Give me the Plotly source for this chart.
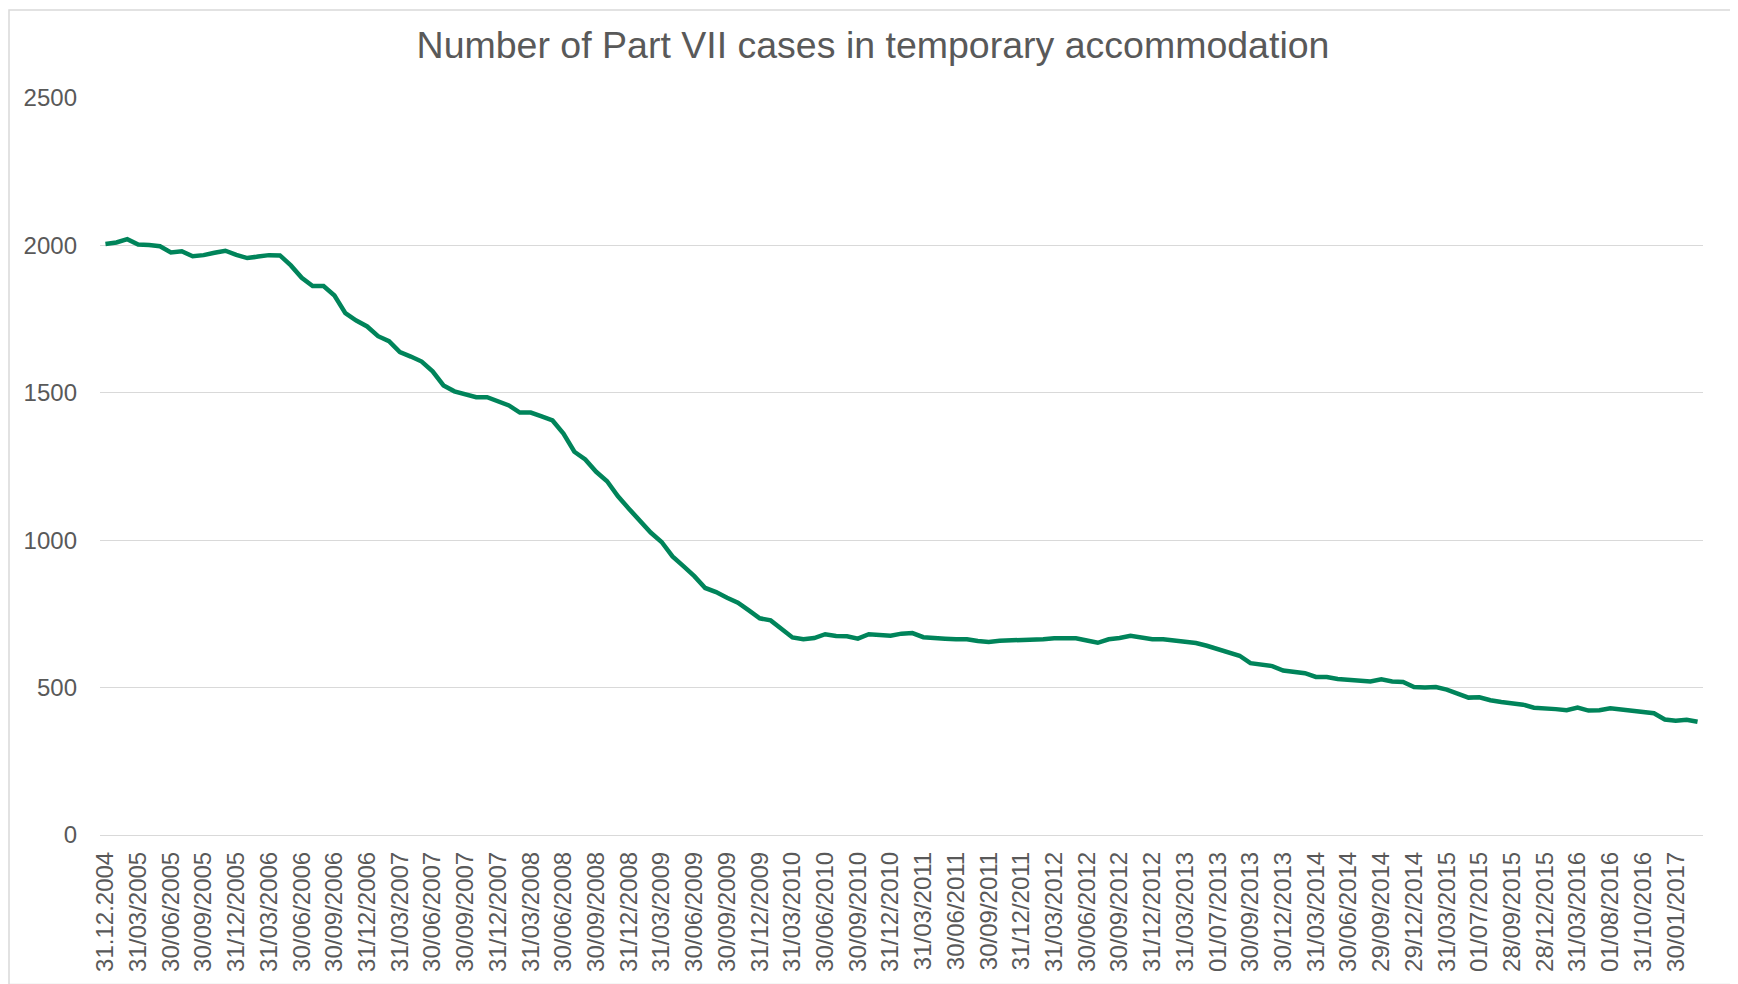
import plotly.graph_objects as go

# Monthly number of Part VII cases in temporary accommodation (Dec 2004 - Mar 2017)
cases = [
    2005, 2010, 2021, 2003, 2001, 1997, 1976, 1980, 1963, 1967,
    1975, 1982, 1968, 1957, 1962, 1967, 1966, 1932, 1890, 1862,
    1862, 1830, 1770, 1745, 1725, 1692, 1675, 1638, 1623, 1606,
    1573, 1525, 1505, 1494, 1485, 1485, 1471, 1457, 1433, 1433,
    1420, 1406, 1362, 1300, 1274, 1232, 1200, 1149, 1107, 1065,
    1026, 994, 945, 912, 878, 838, 824, 805, 788, 762,
    735, 728, 699, 670, 664, 668, 681, 675, 674, 666,
    681, 680, 676, 683, 685, 671, 670, 666, 664, 664,
    658, 655, 659, 660, 660, 660, 664, 667, 667, 667,
    660, 652, 664, 668, 676, 671, 664, 664, 660, 658,
    651, 642, 631, 621, 608, 583, 579, 573, 558, 554,
    549, 536, 536, 529, 527, 526, 521, 528, 521, 519,
    502, 500, 502, 493, 479, 466, 467, 457, 451, 447,
    442, 432, 431, 427, 423, 432, 422, 423, 430, 426,
    419, 415, 413, 392, 388, 391, 384,
]

# Labels shown on every third monthly category
tick_labels = [
    "31.12.2004", "31/03/2005", "30/06/2005", "30/09/2005", "31/12/2005",
    "31/03/2006", "30/06/2006", "30/09/2006", "31/12/2006", "31/03/2007",
    "30/06/2007", "30/09/2007", "31/12/2007", "31/03/2008", "30/06/2008",
    "30/09/2008", "31/12/2008", "31/03/2009", "30/06/2009", "30/09/2009",
    "31/12/2009", "31/03/2010", "30/06/2010", "30/09/2010", "31/12/2010",
    "31/03/2011", "30/06/2011", "30/09/2011", "31/12/2011", "31/03/2012",
    "30/06/2012", "30/09/2012", "31/12/2012", "31/03/2013", "01/07/2013",
    "30/09/2013", "30/12/2013", "31/03/2014", "30/06/2014", "29/09/2014",
    "29/12/2014", "31/03/2015", "01/07/2015", "28/09/2015", "28/12/2015",
    "31/03/2016", "01/08/2016", "31/10/2016", "30/01/2017",
]
label_step = 3

title_text = "Number of Part VII cases in temporary accommodation"

x_idx = list(range(len(cases)))
tick_positions = x_idx[::label_step][:len(tick_labels)]

FONT = "Liberation Sans, Arial, sans-serif"
GREY_TEXT = "#595959"
GRID = "#d9d9d9"

W, H = 1730, 976
ML, MR, MT, MB = 92, 35, 90, 141
PW, PH = W - ML - MR, H - MT - MB

fig = go.Figure()
fig.add_trace(go.Scatter(
    x=x_idx, y=cases, mode="lines",
    line=dict(color="#00845a", width=4.5),
    hoverinfo="y", showlegend=False,
))

fig.update_layout(
    width=W, height=H,
    margin=dict(l=ML, r=MR, t=MT, b=MB),
    paper_bgcolor="white", plot_bgcolor="white",
    title=dict(text=title_text, x=0.5, xref="container", xanchor="center",
               y=0.962, yanchor="middle", yref="container",
               font=dict(family=FONT, size=37.5, color=GREY_TEXT)),
    font=dict(family=FONT, color=GREY_TEXT),
)

fig.update_xaxes(
    range=[-0.5, len(cases) - 0.5],
    tickmode="array", tickvals=tick_positions, ticktext=tick_labels,
    tickangle=-90, tickfont=dict(family=FONT, size=24, color=GREY_TEXT),
    showgrid=False, zeroline=False, showline=False, ticks="",
    ticklabelstandoff=11,
)
fig.update_yaxes(
    range=[0, 2500], tickmode="linear", tick0=0, dtick=500,
    tickfont=dict(family=FONT, size=24, color=GREY_TEXT),
    showgrid=True, gridcolor=GRID, gridwidth=1.3,
    zeroline=True, zerolinecolor=GRID, zerolinewidth=1.3,
    showline=False, ticks="", ticklabelstandoff=22,
)

# light chart-area border, drawn just inside the figure edges
fig.add_shape(type="rect", xref="paper", yref="paper",
              x0=(1 - ML) / PW, x1=(W - 7 - ML) / PW,
              y0=-(MB + 10) / PH, y1=(PH + MT - 1) / PH,
              line=dict(color=GRID, width=1.5), fillcolor="rgba(0,0,0,0)",
              layer="below")

fig.write_html("out.html")
